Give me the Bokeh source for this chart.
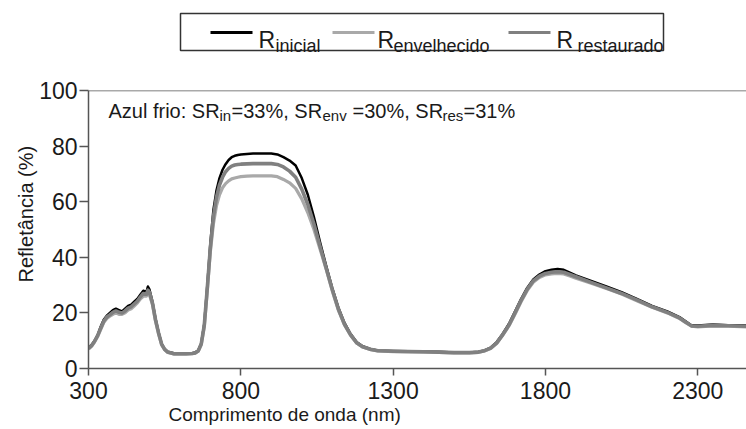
from bokeh.plotting import figure
from bokeh.models import Range1d, Span, Label, FixedTicker, Title
from bokeh.layouts import column
from bokeh.core.properties import value
from bokeh.embed import file_html
from bokeh.resources import INLINE

# ---------------- data ----------------
wavelength = [300, 310, 320, 330, 340, 350, 360, 370, 380, 390,
              400, 410, 420, 430, 440, 450, 460, 470, 480, 490,
              495, 500, 510, 520, 530, 540, 550, 560, 580, 600,
              620, 640, 650, 660, 670, 680, 690, 700, 710, 720,
              730, 740, 750, 760, 770, 780, 790, 800, 820, 840,
              860, 880, 900, 920, 940, 960, 980, 1000, 1020, 1040,
              1060, 1080, 1100, 1120, 1140, 1160, 1180, 1200, 1225, 1250,
              1300, 1350, 1400, 1450, 1500, 1550, 1580, 1600, 1620, 1640,
              1660, 1680, 1700, 1720, 1740, 1760, 1780, 1800, 1820, 1840,
              1860, 1880, 1900, 1950, 2000, 2050, 2100, 2150, 2200, 2240,
              2260, 2280, 2300, 2350, 2400, 2460]

r_inicial = [7.5, 8.5, 10.0, 12.0, 15.0, 17.5, 19.0, 20.0, 21.0, 21.5,
             21.0, 20.5, 21.5, 22.5, 23.0, 24.0, 25.0, 26.5, 28.0, 27.5,
             29.5, 28.5, 24.0, 18.0, 13.0, 9.0, 7.0, 6.0, 5.5, 5.5,
             5.5, 5.5, 5.8, 6.5, 9.0, 16.0, 30.0, 45.0, 57.0, 64.0,
             68.5, 71.5, 73.5, 75.0, 76.0, 76.5, 76.8, 77.0, 77.2, 77.3,
             77.3, 77.3, 77.3, 77.0, 76.0, 74.8, 73.0, 68.5, 62.5, 54.5,
             45.5, 37.0, 29.0, 22.0, 16.5, 12.5, 9.5, 8.0, 7.0, 6.5,
             6.3, 6.2, 6.1, 6.0, 5.8, 5.8, 6.0, 6.5, 7.5, 9.5,
             12.5, 16.0, 20.5, 25.0, 29.0, 32.0, 33.8, 35.0, 35.5, 35.8,
             35.5, 34.5, 33.5, 31.5, 29.5, 27.5, 25.0, 22.5, 20.5, 18.5,
             17.0, 15.5, 15.5, 15.8, 15.6, 15.5]

r_envelhecido = [7.0, 8.0, 9.5, 11.5, 14.0, 16.5, 18.0, 18.8, 19.5, 20.0,
                 19.5, 19.5, 20.0, 21.0, 21.5, 22.5, 23.5, 25.0, 26.0, 26.0,
                 27.0, 26.5, 23.0, 17.0, 12.5, 8.5, 6.8, 5.8, 5.2, 5.2,
                 5.2, 5.3, 5.5, 6.2, 8.5, 15.0, 28.0, 42.0, 52.0, 58.5,
                 62.5, 65.0, 66.5, 67.5, 68.2, 68.5, 68.8, 69.0, 69.2, 69.3,
                 69.3, 69.3, 69.3, 69.0, 68.0, 66.8, 64.8, 61.0, 56.0, 50.0,
                 43.0, 35.8, 28.0, 21.0, 15.8, 12.0, 9.2, 7.7, 6.8, 6.3,
                 6.1, 6.0, 5.9, 5.8, 5.6, 5.6, 5.8, 6.3, 7.2, 9.0,
                 12.0, 15.3, 19.5, 24.0, 28.0, 31.0, 32.7, 33.7, 34.0, 34.2,
                 34.0, 33.3, 32.5, 30.7, 28.8, 26.8, 24.4, 22.0, 20.0, 18.0,
                 16.5, 15.2, 15.0, 15.3, 15.2, 15.0]

r_restaurado = [7.2, 8.2, 9.8, 11.8, 14.5, 17.0, 18.5, 19.3, 20.2, 20.7,
                20.2, 20.0, 20.7, 21.7, 22.2, 23.2, 24.2, 25.7, 27.0, 26.7,
                28.2, 27.5, 23.5, 17.5, 12.8, 8.8, 6.9, 5.9, 5.3, 5.3,
                5.3, 5.4, 5.6, 6.3, 8.8, 15.5, 29.0, 43.5, 54.5, 61.5,
                66.0, 68.8, 70.8, 72.0, 72.8, 73.2, 73.4, 73.5, 73.6, 73.7,
                73.7, 73.7, 73.7, 73.4, 72.5, 71.0, 68.8, 64.5, 59.0, 52.0,
                44.0, 36.2, 28.5, 21.5, 16.0, 12.2, 9.3, 7.8, 6.9, 6.4,
                6.2, 6.1, 6.0, 5.9, 5.7, 5.7, 5.9, 6.4, 7.3, 9.2,
                12.2, 15.6, 20.0, 24.5, 28.5, 31.5, 33.2, 34.2, 34.6, 34.8,
                34.6, 33.8, 33.0, 31.0, 29.0, 27.0, 24.7, 22.2, 20.2, 18.2,
                16.7, 15.3, 15.2, 15.5, 15.4, 15.2]

series_subscripts = ["inicial", "envelhecido", "restaurado"]
series_colors = ["#000000", "#a9a9a9", "#808080"]
series_widths = [2.5, 3.2, 3.6]

x_ticks = [300, 800, 1300, 1800, 2300]
y_ticks = [0, 20, 40, 60, 80, 100]

x_label = "Comprimento de onda (nm)"
y_label = "Refletância (%)"

# annotation pieces: (text, is_subscript, left edge px)
annotation_parts = [("Azul frio: SR", False, 108), ("in", True, 219),
                    ("=33%, SR", False, 231), ("env", True, 322),
                    ("=30%, SR", False, 352), ("res", True, 442),
                    ("=31%", False, 463)]

FONT = "Liberation Sans"
TXT = "#1a1a1a"
AXC = "#555555"

# ---------------- legend strip (its frame is aligned with the main frame: 88..746 px) ----------------
leg = figure(width=746, height=60, x_range=Range1d(88, 746), y_range=Range1d(60, 0),
             output_backend="svg", toolbar_location=None, min_border=0,
             x_axis_location=None, y_axis_location=None)
leg.outline_line_color = None
leg.grid.visible = False
leg.quad(left=[180], right=[663], top=[13], bottom=[50], fill_alpha=0,
         line_color="#333333", line_width=1.5)
leg_line_x0 = [210, 332, 508]
leg_R_x = [258, 377, 556]
leg_sub_x = [275, 393, 577]
leg.segment(x0=leg_line_x0, y0=[32] * 3, x1=[x + 42 for x in leg_line_x0], y1=[32] * 3,
            line_color=series_colors, line_width=3)
leg.text(x=leg_R_x, y=[39] * 3, text=["R"] * 3, text_font=value(FONT),
         text_font_size="23px", text_baseline="alphabetic", text_color=TXT)
leg.text(x=leg_sub_x, y=[45] * 3, text=series_subscripts, text_font=value(FONT),
         text_font_size="18px", text_baseline="alphabetic", text_color=TXT)

# ---------------- main plot ----------------
p = figure(width=746, height=369, x_range=Range1d(300, 2460), y_range=Range1d(0, 100),
           output_backend="svg", toolbar_location=None,
           min_border_top=30, min_border_left=88, min_border_right=0, min_border_bottom=61)
p.outline_line_color = None
p.grid.visible = False

for ys, c, w in zip([r_inicial, r_envelhecido, r_restaurado], series_colors, series_widths):
    p.line(wavelength, ys, line_color=c, line_width=w, line_join="round")

p.xaxis.ticker = FixedTicker(ticks=x_ticks)
p.yaxis.ticker = FixedTicker(ticks=y_ticks)
for ax in (p.xaxis, p.yaxis):
    ax.axis_line_color = AXC
    ax.axis_line_width = 1.5
    ax.major_tick_line_color = AXC
    ax.major_tick_line_width = 1.5
    ax.minor_tick_line_color = None
    ax.major_tick_in = 0
    ax.major_label_text_font = FONT
    ax.major_label_text_font_size = "23px"
    ax.major_label_text_color = TXT
p.xaxis.major_tick_out = 7
p.yaxis.major_tick_out = 9
p.xaxis.major_label_standoff = 6
p.yaxis.major_label_standoff = 2

p.add_layout(Span(location=100, dimension="width", line_color=AXC, line_width=1.5))

for txt, sub, px in annotation_parts:
    p.add_layout(Label(x=300, y=100, x_offset=px - 88, y_offset=-(115 - 90) if sub else -(110 - 90),
                       text=txt, text_font=FONT, text_font_size="15px" if sub else "20px",
                       text_color=TXT, text_align="left", text_baseline="alphabetic"))

p.add_layout(Title(text=x_label, align="left", offset=80, standoff=0, text_font=FONT,
                   text_font_size="19px", text_font_style="normal", text_color=TXT), "below")
p.add_layout(Title(text=y_label, align="left", offset=86, standoff=0, text_font=FONT,
                   text_font_size="20px", text_font_style="normal", text_color=TXT), "left")

layout = column(leg, p, spacing=0)
open("out.html", "w").write(file_html(layout, INLINE))
